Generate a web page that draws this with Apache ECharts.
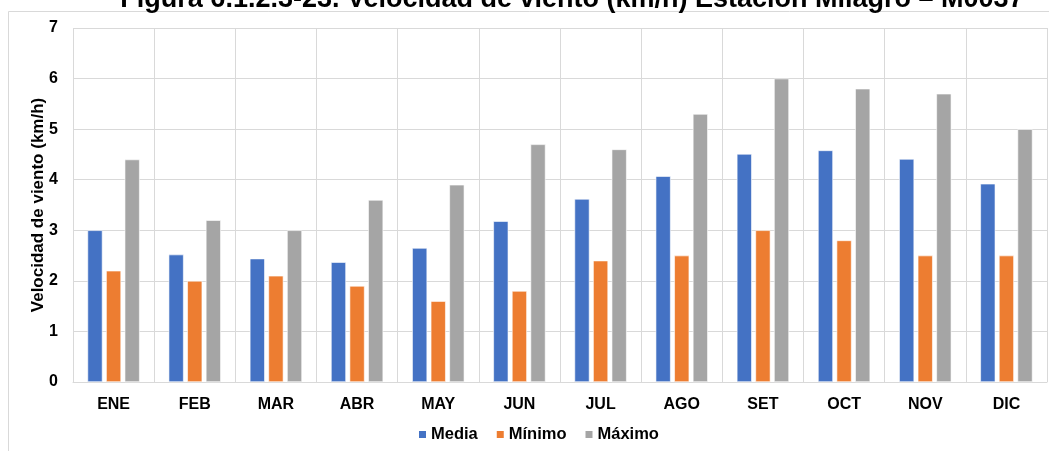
<!DOCTYPE html>
<html>
<head>
<meta charset="utf-8">
<script src="https://cdn.jsdelivr.net/npm/echarts@6/dist/echarts.min.js"></script>
<style>
  html, body { margin: 0; padding: 0; background: #fff; }
  #chart { width: 1049px; height: 451px; }
</style>
</head>
<body>
<div id="chart"></div>
<script>
// Monthly wind speed (km/h) at station M0037
const months = ['ENE', 'FEB', 'MAR', 'ABR', 'MAY', 'JUN', 'JUL', 'AGO', 'SET', 'OCT', 'NOV', 'DIC'];
const media  = [3.0, 2.52, 2.44, 2.37, 2.65, 3.18, 3.62, 4.07, 4.51, 4.58, 4.41, 3.92];
const minimo = [2.2, 2.0, 2.1, 1.9, 1.6, 1.8, 2.4, 2.5, 3.0, 2.8, 2.5, 2.5];
const maximo = [4.4, 3.2, 3.0, 3.6, 3.9, 4.7, 4.6, 5.3, 6.0, 5.8, 5.7, 5.0];
const yTicks = { min: 0, max: 7, interval: 1 };

const font = 'Arial, "Liberation Sans", sans-serif';
const gridColor = '#d9d9d9';

const chart = echarts.init(document.getElementById('chart'), null, { renderer: 'canvas' });

function barSeries(name, data, color) {
  return {
    name: name,
    type: 'bar',
    data: data,
    barWidth: 15,
    barGap: '24%',
    itemStyle: { color: color, borderColor: '#ffffff', borderWidth: 0.6 }
  };
}

chart.setOption({
  animation: false,
  backgroundColor: '#ffffff',
  title: {
    text: 'Figura 6.1.2.3-23. Velocidad de viento (km/h) Estación Milagro – M0037',
    left: 567,
    textAlign: 'center',
    top: -19,
    textStyle: { fontFamily: font, fontSize: 27, fontWeight: 'bold', color: '#000' }
  },
  graphic: [{
    type: 'rect',
    shape: { x: 8.5, y: 11.5, width: 1100, height: 500 },
    style: { fill: null, stroke: gridColor, lineWidth: 1 },
    silent: true,
    z: -1
  }],
  grid: { left: 73, right: 2, top: 28, bottom: 69, containLabel: false },
  legend: {
    bottom: 8,
    left: 417,
    padding: 0,
    itemWidth: 9,
    itemHeight: 9,
    itemGap: 17,
    icon: 'rect',
    textStyle: { fontFamily: font, fontSize: 16.5, fontWeight: 'bold', color: '#000', padding: [0, 0, 0, -1] },
    data: ['Media', 'Mínimo', 'Máximo']
  },
  xAxis: {
    type: 'category',
    data: months,
    axisLine: { show: true, lineStyle: { color: gridColor } },
    axisTick: { show: false },
    splitLine: { show: true, lineStyle: { color: gridColor } },
    axisLabel: { fontFamily: font, fontSize: 16, fontWeight: 'bold', color: '#000', margin: 15 }
  },
  yAxis: {
    type: 'value',
    min: yTicks.min,
    max: yTicks.max,
    interval: yTicks.interval,
    name: 'Velocidad de viento (km/h)',
    nameLocation: 'middle',
    nameRotate: 90,
    nameGap: 26,
    nameMoveOverlap: false,
    nameTextStyle: { fontFamily: font, fontSize: 17, fontWeight: 'bold', color: '#000' },
    axisLine: { show: false },
    axisTick: { show: false },
    splitLine: { show: true, lineStyle: { color: gridColor } },
    axisLabel: { fontFamily: font, fontSize: 16, fontWeight: 'bold', color: '#000', margin: 15 }
  },
  series: [
    barSeries('Media', media, '#4472C4'),
    barSeries('Mínimo', minimo, '#ED7D31'),
    barSeries('Máximo', maximo, '#A5A5A5')
  ]
});
</script>
</body>
</html>
